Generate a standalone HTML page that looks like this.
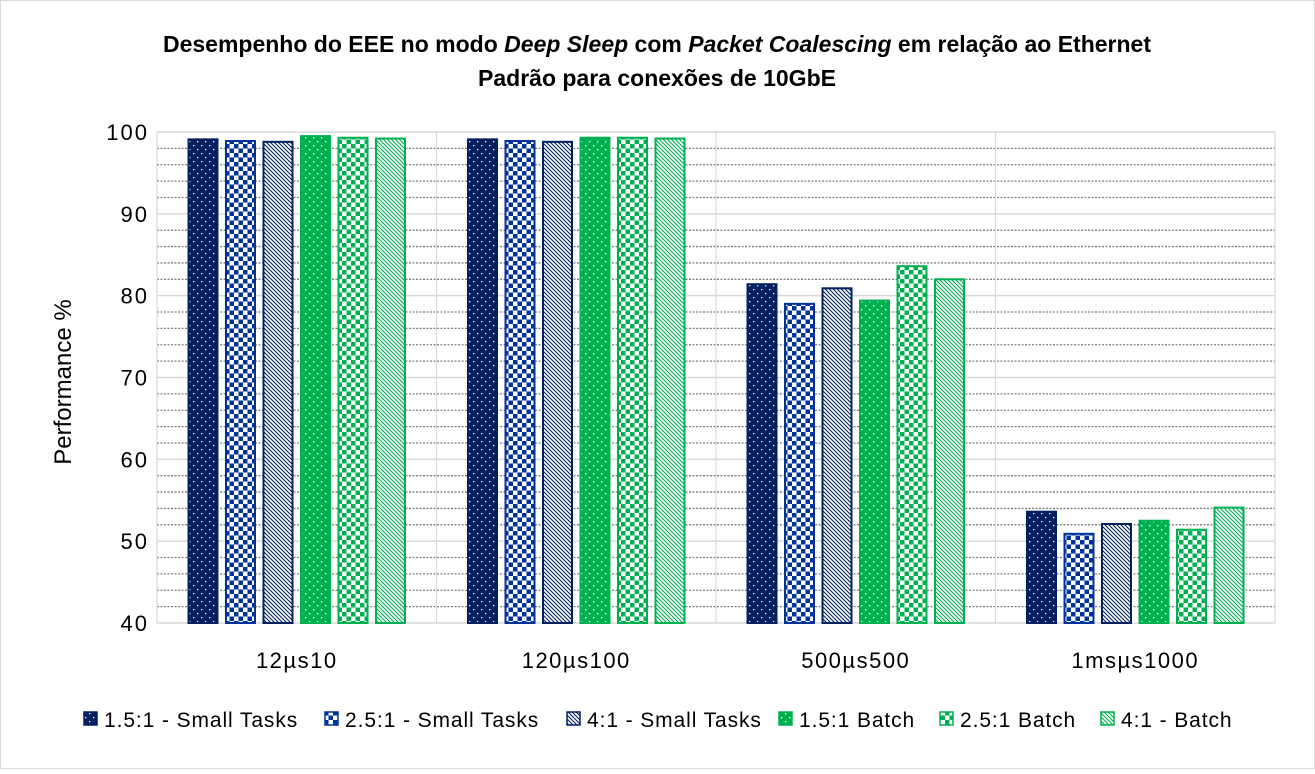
<!DOCTYPE html>
<html><head><meta charset="utf-8"><style>
body{margin:0;background:#fff;}
svg text{font-family:"Liberation Sans",sans-serif;}
</style></head><body>
<svg id="c" width="1315" height="769" xmlns="http://www.w3.org/2000/svg">
<defs>
<pattern id="p0" width="8" height="8" patternUnits="userSpaceOnUse"><rect width="8" height="8" fill="#002060"/><rect x="1" y="1" width="1.3" height="1.3" fill="#fff"/><rect x="5" y="5" width="1.3" height="1.3" fill="#fff"/></pattern>
<pattern id="p1" width="9" height="9" patternUnits="userSpaceOnUse"><rect width="9" height="9" fill="#fff"/><rect width="4.5" height="4.5" fill="#003399"/><rect x="4.5" y="4.5" width="4.5" height="4.5" fill="#003399"/></pattern>
<pattern id="p2" width="4" height="4" patternUnits="userSpaceOnUse"><rect width="4" height="4" fill="#fff"/><path d="M-1,3 L1,5 M0,0 L4,4 M3,-1 L5,1" stroke="#002060" stroke-width="1.1"/></pattern>
<pattern id="p3" width="8" height="8" patternUnits="userSpaceOnUse"><rect width="8" height="8" fill="#00B050"/><rect x="1" y="1" width="1.3" height="1.3" fill="#fff"/><rect x="5" y="5" width="1.3" height="1.3" fill="#fff"/></pattern>
<pattern id="p4" width="9" height="9" patternUnits="userSpaceOnUse"><rect width="9" height="9" fill="#fff"/><rect width="4.5" height="4.5" fill="#00B050"/><rect x="4.5" y="4.5" width="4.5" height="4.5" fill="#00B050"/></pattern>
<pattern id="p5" width="4" height="4" patternUnits="userSpaceOnUse"><rect width="4" height="4" fill="#fff"/><path d="M-1,3 L1,5 M0,0 L4,4 M3,-1 L5,1" stroke="#00B050" stroke-width="1.1"/></pattern>
</defs>
<rect x="0.5" y="0.5" width="1314" height="768" fill="#fff" stroke="#d9d9d9"/>
<text x="657" y="52" text-anchor="middle" font-size="23" font-weight="bold">Desempenho do EEE no modo <tspan font-style="italic">Deep Sleep</tspan> com <tspan font-style="italic">Packet Coalescing</tspan> em relação ao Ethernet</text>
<text x="657" y="86" text-anchor="middle" font-size="23" font-weight="bold">Padrão para conexões de 10GbE</text>
<text transform="translate(71,382) rotate(-90)" text-anchor="middle" font-size="24">Performance %</text>
<g id="grid"></g><g id="bars"></g><g id="axes"></g><g id="legend"></g>
</svg>
<script>
const categories=["12µs10","120µs100","500µs500","1msµs1000"];
const seriesNames=["1.5:1 - Small Tasks","2.5:1 - Small Tasks","4:1 - Small Tasks","1.5:1 Batch","2.5:1 Batch","4:1 - Batch"];
const s0=[99.1,99.1,81.4,53.6];
const s1=[98.9,98.9,79.0,50.9];
const s2=[98.8,98.8,80.9,52.1];
const s3=[99.5,99.3,79.4,52.5];
const s4=[99.3,99.3,83.6,51.4];
const s5=[99.2,99.2,82.0,54.1];
const yTicks=[40,50,60,70,80,90,100];
const series=[s0,s1,s2,s3,s4,s5];
const fills=["url(#p0)","url(#p1)","url(#p2)","url(#p3)","url(#p4)","url(#p5)"];
const strokes=["#002060","#003399","#002060","#00B050","#00B050","#00B050"];
const NS="http://www.w3.org/2000/svg";
const X0=157,X1=1275,Y0=623,Y1=132,ymin=40,ymax=100;
const y=v=>Y0-(v-ymin)/(ymax-ymin)*(Y0-Y1);
const cw=(X1-X0)/categories.length;
const bw=31,gap=6.5;
const bx=(ci,si)=>X0+cw*ci+cw/2-(6*bw+5*gap)/2+si*(bw+gap);
function mk(t,a,p){const e=document.createElementNS(NS,t);for(const k in a)e.setAttribute(k,a[k]);p.appendChild(e);return e;}
const g=document.getElementById('grid');
for(let v=ymin;v<ymax;v+=2){if(v%10===0)continue;const l=mk('line',{x1:X0,x2:X1,y1:y(v),y2:y(v),stroke:'#7f7f7f','stroke-width':1.3,'stroke-dasharray':'2,1.5'},g);

}
yTicks.forEach(v=>{const l=mk('line',{x1:X0,x2:X1,y1:y(v),y2:y(v),stroke:'#d9d9d9','stroke-width':1.5},g);


const t=mk('text',{x:X0-8,y:y(v)+8,'text-anchor':'end','font-size':22,'letter-spacing':2},g);t.textContent=v;

});
for(let i=0;i<=categories.length;i++){const l=mk('line',{x1:X0+cw*i,x2:X0+cw*i,y1:Y1,y2:Y0,stroke:'#d9d9d9','stroke-width':1.2},g);

}
const b=document.getElementById('bars');
categories.forEach((c,ci)=>{series.forEach((s,si)=>{const r=mk('rect',{x:bx(ci,si)+1,y:y(s[ci]),width:bw-2,height:Y0-y(s[ci]),fill:fills[si],stroke:strokes[si],'stroke-width':2},b);

});
const t=mk('text',{x:X0+cw*ci+cw/2,y:668,'text-anchor':'middle','font-size':22,'letter-spacing':1.5},b);t.textContent=c;

});
const lg=document.getElementById('legend');
const lx=[84,325,567,779,940,1101];
seriesNames.forEach((n,i)=>{const gg=mk('g',{},lg);


mk('rect',{x:lx[i],y:712,width:13,height:13,fill:fills[i],stroke:strokes[i],'stroke-width':1.5},gg);
const t=mk('text',{x:lx[i]+20,y:727,'font-size':21,'letter-spacing':0.9},gg);t.textContent=n;});
</script>
</body></html>
